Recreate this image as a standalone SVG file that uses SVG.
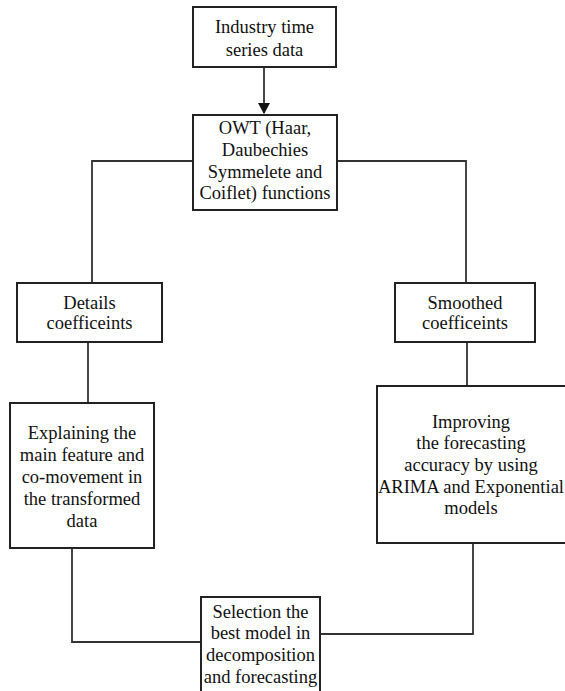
<svg xmlns="http://www.w3.org/2000/svg" width="565" height="691" viewBox="0 0 565 691">
<style>
.box{fill:#fff;stroke:#222;stroke-width:2}
.ln{fill:none;stroke:#333;stroke-width:1.8}
text{font-family:"Liberation Serif","Times New Roman",serif;font-size:18.5px;fill:#111;text-anchor:middle}
</style>
<defs>
<marker id="ah" markerWidth="12" markerHeight="12" refX="10" refY="6" orient="auto" markerUnits="userSpaceOnUse">
<path d="M0,0 L11,6 L0,12 Z" fill="#111"/>
</marker>
</defs>
<g id="connectors">
<line class="ln" x1="264" y1="67" x2="264" y2="113" marker-end="url(#ah)"/>
<polyline class="ln" points="193,161 92,161 92,283"/>
<polyline class="ln" points="337,161 466,161 466,283"/>
<line class="ln" x1="88" y1="342" x2="88" y2="403"/>
<line class="ln" x1="467" y1="342" x2="467" y2="386"/>
<polyline class="ln" points="72,548 72,642 201,642"/>
<polyline class="ln" points="473,543 473,634 320,634"/>
</g>
<g id="n1">
<rect class="box" x="193" y="7" width="143" height="60"/>
<text x="264.5" y="33">Industry time</text>
<text x="264.5" y="56">series data</text>
</g>
<g id="n2">
<rect class="box" x="193" y="115" width="144" height="95"/>
<text x="265" y="134">OWT (Haar,</text>
<text x="265" y="156">Daubechies</text>
<text x="265" y="178">Symmelete and</text>
<text x="265" y="199">Coiflet) functions</text>
</g>
<g id="n3">
<rect class="box" x="17" y="283" width="145" height="59"/>
<text x="89.5" y="309">Details</text>
<text x="89.5" y="329">coefficeints</text>
</g>
<g id="n4">
<rect class="box" x="395" y="283" width="140" height="59"/>
<text x="465" y="309">Smoothed</text>
<text x="465" y="329">coefficeints</text>
</g>
<g id="n5">
<rect class="box" x="10" y="403" width="144" height="145"/>
<text x="82" y="439">Explaining the</text>
<text x="82" y="461">main feature and</text>
<text x="82" y="483">co-movement in</text>
<text x="82" y="505">the transformed</text>
<text x="82" y="527">data</text>
</g>
<g id="n6">
<rect class="box" x="377" y="386" width="200" height="157"/>
<text x="471" y="428">Improving</text>
<text x="471" y="449">the forecasting</text>
<text x="471" y="471">accuracy by using</text>
<text x="471" y="493">ARIMA and Exponential</text>
<text x="471" y="514">models</text>
</g>
<g id="n7">
<rect class="box" x="201" y="597" width="119" height="110"/>
<text x="260.5" y="618">Selection the</text>
<text x="260.5" y="639">best model in</text>
<text x="260.5" y="661">decomposition</text>
<text x="260.5" y="683">and forecasting</text>
</g>
</svg>
